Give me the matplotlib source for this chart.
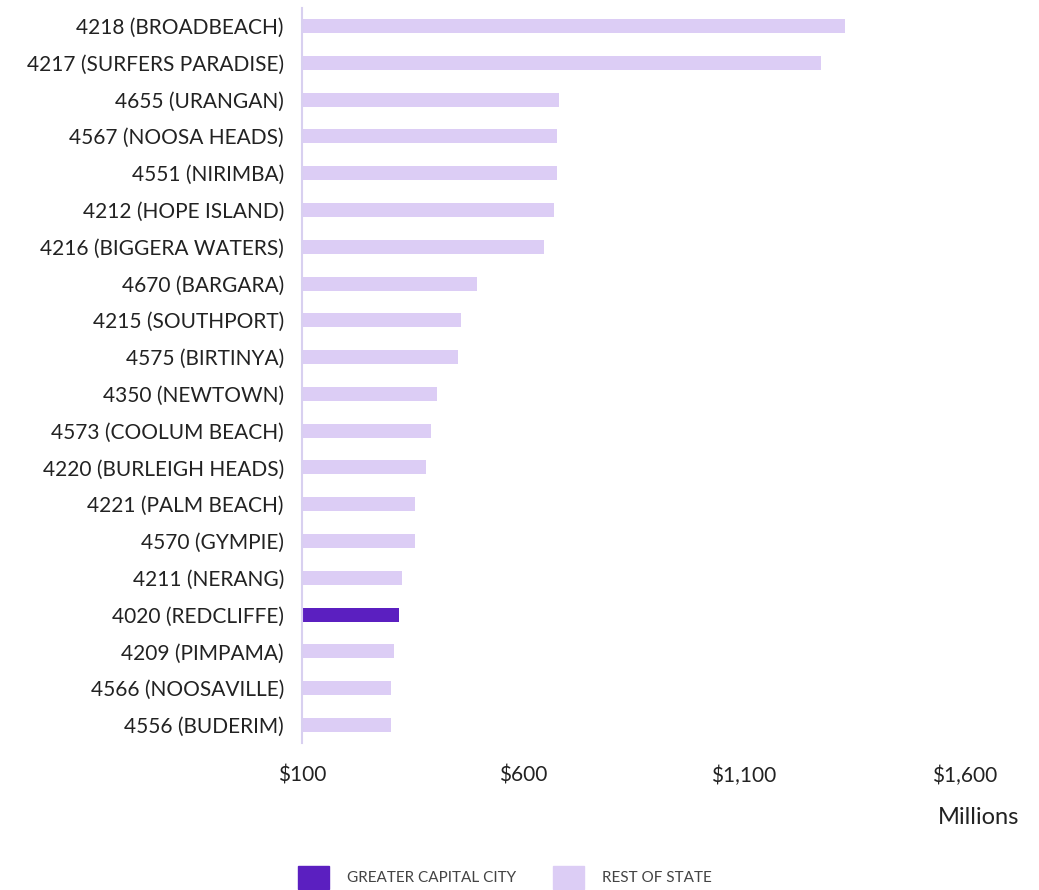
import matplotlib
matplotlib.use("Agg")
import matplotlib.pyplot as plt
from matplotlib.patches import Patch
from matplotlib.ticker import FuncFormatter

categories = [
    "4218 (BROADBEACH)", "4217 (SURFERS PARADISE)", "4655 (URANGAN)",
    "4567 (NOOSA HEADS)", "4551 (NIRIMBA)", "4212 (HOPE ISLAND)",
    "4216 (BIGGERA WATERS)", "4670 (BARGARA)", "4215 (SOUTHPORT)",
    "4575 (BIRTINYA)", "4350 (NEWTOWN)", "4573 (COOLUM BEACH)",
    "4220 (BURLEIGH HEADS)", "4221 (PALM BEACH)", "4570 (GYMPIE)",
    "4211 (NERANG)", "4020 (REDCLIFFE)", "4209 (PIMPAMA)",
    "4566 (NOOSAVILLE)", "4556 (BUDERIM)",
]
values = [1328, 1274, 681, 677, 677, 670, 647, 496, 460, 453,
          405, 392, 380, 356, 356, 326, 319, 308, 301, 301]
groups = ["REST OF STATE"] * 16 + ["GREATER CAPITAL CITY"] + ["REST OF STATE"] * 3
xticks = [100, 600, 1100, 1600]

colors = {"GREATER CAPITAL CITY": "#5B1FC0", "REST OF STATE": "#DCCDF5"}

plt.rcParams['font.family'] = ['Lato', 'DejaVu Sans']

fig = plt.figure(figsize=(10.39, 8.9), dpi=100)
ax = fig.add_axes([0.2907, 0.1647, 0.6381, 0.8268])

base = 100
y = list(range(len(categories)))
ax.barh(y, [v - base for v in values], left=base, height=0.38,
        color=[colors[g] for g in groups])

ax.set_xlim(100, 1600)
ax.set_ylim(len(categories) - 0.5, -0.5)
ax.set_yticks(y)
ax.set_yticklabels(categories, fontsize=15, color="#222222")
ax.set_xticks(xticks)
ax.xaxis.set_major_formatter(FuncFormatter(lambda v, p: "${:,.0f}".format(v)))
ax.tick_params(axis='x', labelsize=15, length=0, pad=16, colors="#222222")
ax.tick_params(axis='y', length=0, pad=13)

for s in ["top", "right", "bottom"]:
    ax.spines[s].set_visible(False)
ax.spines["left"].set_color("#D8D0F0")
ax.spines["left"].set_linewidth(1.5)

fig.text(0.981, 0.082, "Millions", ha="right", va="center", fontsize=17, color="#222222")

handles = [Patch(color=colors["GREATER CAPITAL CITY"], label="GREATER CAPITAL CITY"),
           Patch(color=colors["REST OF STATE"], label="REST OF STATE")]
fig.legend(handles=handles, loc="center", bbox_to_anchor=(0.486, 0.014), ncol=2,
           frameon=False, fontsize=11, labelcolor="#444444",
           handlelength=2.0, handleheight=2.0, columnspacing=2.4, handletextpad=1.2)

fig.savefig("out.png", dpi=100)
